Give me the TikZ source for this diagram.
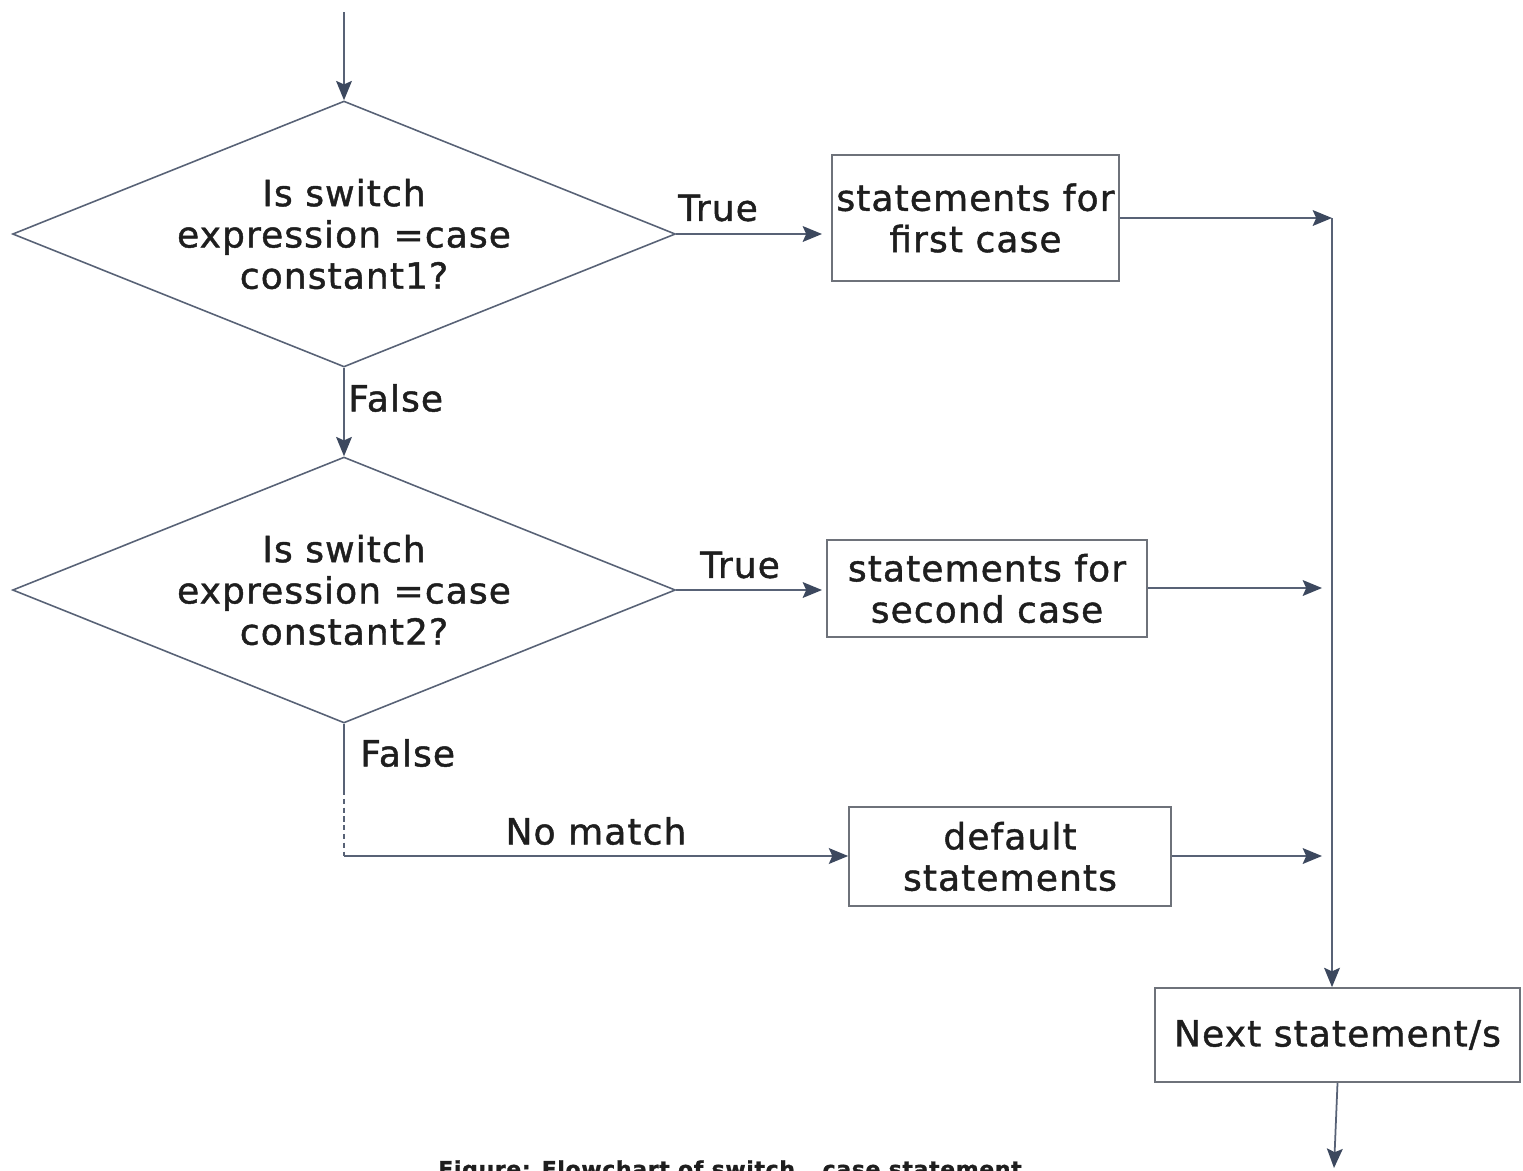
\documentclass[tikz,border=0pt]{standalone}
\usepackage{fontspec}
\setmainfont{DejaVu Sans}[FakeBold=1.2, LetterSpace=3]
\usetikzlibrary{shapes.geometric,arrows.meta}
\definecolor{linec}{RGB}{88,98,118}
\definecolor{tipc}{RGB}{60,72,94}
\definecolor{boxc}{RGB}{110,114,122}
\definecolor{txtc}{RGB}{30,30,30}
\tikzset{
    arr/.style={draw=linec, line width=1pt, -{Stealth[length=11pt,width=9pt,inset=2pt,color=tipc]}},
    decide/.style={diamond, draw=linec, line width=0.9pt, inner sep=0pt, aspect=2.5,
        minimum width=13.26cm, minimum height=5.32cm, align=center, text=txtc},
    stmt/.style={rectangle, draw=boxc, line width=1pt, inner sep=0pt, align=center, text=txtc},
    lbl/.style={text=txtc, inner sep=0pt}
}
\begin{document}
\begin{tikzpicture}[x=0.02cm, y=-0.02cm, font=\fontsize{20.5}{23.5}\selectfont]
    \useasboundingbox (0,0) rectangle (1523,1170);
    % decisions
    \coordinate (start) at (344,12);
    \node[decide] (d1) at (344,234) {Is switch\\expression =case\\constant1?};
    \node[decide] (d2) at (344,590) {Is switch\\expression =case\\constant2?};
    % statement boxes
    \node[stmt, minimum width=5.74cm, minimum height=2.52cm] (s1) at (975.5,218) {statements for\\first case};
    \node[stmt, minimum width=6.4cm, minimum height=1.94cm] (s2) at (987,588.5) {statements for\\second case};
    \node[stmt, minimum width=6.44cm, minimum height=1.98cm] (s3) at (1010,856.5) {default\\statements};
    \node[stmt, minimum width=7.3cm, minimum height=1.88cm] (next) at (1337.5,1035) {Next statement/s};
    \coordinate (j1) at (1332,218);
    \coordinate (j2) at (1322,588);
    \coordinate (j3) at (1322,856);
    \coordinate (f1) at (344,790);
    \coordinate (f2) at (344,856);
    \coordinate (out) at (1334,1168);
    % connectors
    \draw[arr] (start) -- (d1.north);
    \draw[arr] (d1.east) -- (822,234);
    \draw[arr] (d1.south) -- (d2.north);
    \draw[arr] (d2.east) -- (822,590);
    \draw[arr] (s1.east |- j1) -- (j1);
    \draw[arr] (j1) -- (j1 |- next.north);
    \draw[arr] (s2.east |- j2) -- (j2);
    \draw[arr] (s3.east |- j3) -- (j3);
    \draw[draw=linec, line width=1pt] (d2.south) -- (f1);
    \draw[draw=linec, line width=1pt, dashed, dash pattern=on 3pt off 2pt] (f1) -- (f2);
    \draw[arr] (f2) -- (s3.west |- f2);
    \draw[arr] (next.south) -- (out);
    % labels
    \node[lbl] (t1) at (718,208) {True};
    \node[lbl] (t2) at (740,565) {True};
    \node[lbl, anchor=west] (n1) at (348,398) {False};
    \node[lbl, anchor=west] (n2) at (360,753) {False};
    \node[lbl] (nm) at (596,831) {No match};
    \node[lbl, anchor=base, font=\fontsize{12.5}{15}\selectfont\bfseries] (cap) at (730,1177) {Figure: Flowchart of switch...case statement};
\end{tikzpicture}
\end{document}
